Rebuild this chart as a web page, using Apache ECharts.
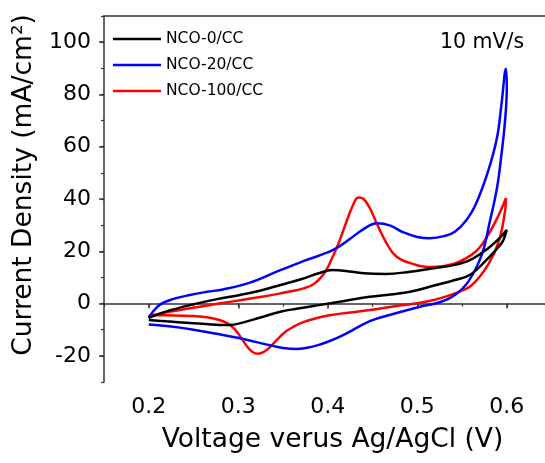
<!DOCTYPE html>
<html>
<head>
<meta charset="utf-8">
<script src="https://cdn.jsdelivr.net/npm/echarts@6/dist/echarts.min.js"></script>
<style>
html,body{margin:0;padding:0;background:#fff;}
#chart{width:545px;height:463px;}
</style>
</head>
<body>
<div id="chart"></div>
<script>
// ---- data (potential V, current density mA/cm2) ----
const seriesNames = ['NCO-0/CC', 'NCO-20/CC', 'NCO-100/CC'];

const nco0_V = [0.200,0.220,0.246,0.275,0.302,0.325,0.347,0.370,0.390,0.405,0.420,0.440,0.465,0.492,0.514,0.542,0.560,0.579,0.592,0.600,
                0.597,0.594,0.579,0.559,0.542,0.520,0.492,0.470,0.447,0.420,0.390,0.365,0.347,0.325,0.305,0.290,0.270,0.246,0.220,0.200];
const nco0_J = [-5.5,-3.0,-0.6,1.6,3.3,5.0,7.1,9.3,11.6,12.8,12.5,11.6,11.3,12.2,13.3,14.8,16.8,21.1,25.0,28.2,
                25.0,23.0,17.3,11.0,9.0,7.0,4.5,3.5,2.6,1.1,-0.6,-2.0,-3.1,-5.3,-7.3,-8.2,-8.0,-7.4,-6.8,-6.3];

const nco20_V = [0.200,0.205,0.213,0.225,0.246,0.265,0.283,0.313,0.347,0.375,0.406,0.425,0.440,0.455,0.470,0.484,0.500,0.514,0.530,0.542,0.555,0.565,0.579,0.589,0.594,0.599,
                 0.600,0.598,0.594,0.589,0.581,0.572,0.557,0.542,0.525,0.503,0.475,0.447,0.421,0.410,0.400,0.390,0.377,0.365,0.350,0.335,0.302,0.280,0.250,0.225,0.200];
const nco20_J = [-5.5,-3.0,-0.3,1.5,3.3,4.5,5.4,8.0,12.8,16.5,20.5,24.8,28.5,30.7,29.8,27.3,25.5,25.0,25.8,27.5,32.0,37.7,50.5,63.3,76.0,89.8,
                 82.5,69.7,56.9,44.1,31.3,18.6,8.4,3.3,0.5,-1.2,-3.8,-6.7,-11.4,-13.2,-14.6,-15.8,-16.9,-17.4,-17.0,-15.9,-13.3,-11.8,-10.0,-8.8,-8.0];

const nco100_V = [0.200,0.220,0.246,0.275,0.302,0.330,0.347,0.362,0.374,0.384,0.392,0.399,0.405,0.412,0.420,0.428,0.434,0.440,0.447,0.453,0.458,0.465,0.473,0.482,0.492,0.503,0.514,0.542,0.565,0.579,0.591,0.599,
                  0.598,0.591,0.579,0.561,0.542,0.520,0.503,0.475,0.447,0.420,0.402,0.385,0.372,0.362,0.352,0.343,0.335,0.328,0.322,0.316,0.310,0.303,0.296,0.288,0.278,0.265,0.240,0.220,0.200];
const nco100_J = [-4.8,-3.3,-1.8,-0.2,1.3,2.8,3.9,4.9,5.9,7.4,9.8,13.2,17.5,23.0,30.5,37.5,40.6,40.0,36.5,32.0,28.2,23.5,19.2,16.8,15.5,14.4,14.0,15.4,19.8,26.2,33.9,40.3,
                  35.2,23.7,14.8,7.1,3.9,1.5,0.3,-1.0,-2.5,-3.6,-4.5,-5.8,-7.2,-8.8,-11.0,-14.0,-16.8,-18.6,-19.2,-18.5,-16.5,-13.0,-9.8,-7.6,-6.2,-5.2,-4.7,-4.5,-4.5];

const xMajorTicks = [0.2, 0.3, 0.4, 0.5, 0.6];
const yMajorTicks = [-20, 0, 20, 40, 60, 80, 100];
const rateLabel = '10 mV/s';
const xTitle = 'Voltage verus Ag/AgCl (V)';
const yTitle = 'Current Density (mA/cm²)';

// ---- build ----
function zip(a, b) { return a.map((v, i) => [v, b[i]]); }
const colors = ['#000000', '#0000ff', '#ff0000'];
const datasets = [zip(nco0_V, nco0_J), zip(nco20_V, nco20_J), zip(nco100_V, nco100_J)];

const FONT = 'DejaVu Sans';
const axisColor = '#333333';
const XMIN = 0.15, XMAX = 0.6427;

const chart = echarts.init(document.getElementById('chart'), null, {renderer: 'canvas'});
chart.setOption({
  animation: false,
  backgroundColor: '#ffffff',
  textStyle: {fontFamily: FONT},
  title: {
    text: rateLabel,
    left: 435, top: 27,
    textStyle: {fontFamily: FONT, fontSize: 20.5, fontWeight: 'normal', color: '#000'}
  },
  legend: {
    orient: 'vertical',
    left: 113, top: 30,
    icon: 'rect',
    itemWidth: 48, itemHeight: 2.5, itemGap: 8,
    padding: 0,
    textStyle: {fontFamily: FONT, fontSize: 15.5, lineHeight: 18, color: '#000'},
    data: seriesNames
  },
  grid: {left: 104, top: 16, width: 441, height: 366, containLabel: false},
  xAxis: [
    {
      type: 'value', min: XMIN, max: XMAX, position: 'bottom',
      axisLine: {show: true, lineStyle: {color: axisColor, width: 1.5}},
      axisTick: {show: true, length: 5, lineStyle: {color: axisColor, width: 1.5}, customValues: xMajorTicks},
      axisLabel: {show: true, customValues: xMajorTicks, margin: 14, fontSize: 22, color: '#000', fontFamily: FONT,
                  formatter: v => v.toFixed(1)},
      splitLine: {show: false},
      name: xTitle, nameLocation: 'middle', nameGap: 45,
      nameTextStyle: {fontSize: 26.5, color: '#000', fontFamily: FONT, padding: [0, 0, 0, 16]}
    },
    {
      type: 'value', min: XMIN, max: XMAX, interval: 0.05, position: 'bottom',
      axisLine: {show: false},
      axisTick: {show: true, length: 3, lineStyle: {color: axisColor, width: 1.2}},
      axisLabel: {show: false}, splitLine: {show: false}
    },
    {
      type: 'value', min: XMIN, max: XMAX, position: 'top',
      axisLine: {show: true, lineStyle: {color: axisColor, width: 1.5}},
      axisTick: {show: false}, axisLabel: {show: false}, splitLine: {show: false}
    }
  ],
  yAxis: [
    {
      type: 'value', min: -30, max: 110, position: 'left',
      axisLine: {show: true, lineStyle: {color: axisColor, width: 1.5}},
      axisTick: {show: true, length: 5, lineStyle: {color: axisColor, width: 1.5}, customValues: yMajorTicks},
      axisLabel: {show: true, customValues: yMajorTicks, margin: 13, fontSize: 22, color: '#000', fontFamily: FONT},
      splitLine: {show: false},
      name: yTitle, nameLocation: 'middle', nameGap: 64, nameRotate: 90,
      nameTextStyle: {fontSize: 26.5, color: '#000', fontFamily: FONT, padding: [0, 0, 0, 28]}
    },
    {
      type: 'value', min: -30, max: 110, interval: 10, position: 'left',
      axisLine: {show: false},
      axisTick: {show: true, length: 3, lineStyle: {color: axisColor, width: 1.2}},
      axisLabel: {show: false}, splitLine: {show: false}
    }
  ],
  series: seriesNames.map((n, i) => ({
    name: n,
    type: 'line',
    xAxisIndex: 0, yAxisIndex: 0,
    data: datasets[i],
    smooth: 0.4,
    symbol: 'none',
    clip: false,
    lineStyle: {color: colors[i], width: 2.5},
    itemStyle: {color: colors[i]},
    z: 3 - i
  }))
});
</script>
</body>
</html>
